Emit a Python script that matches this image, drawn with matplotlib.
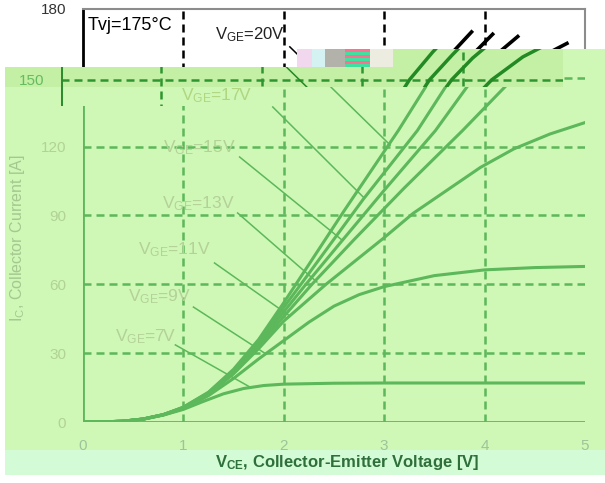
import matplotlib
matplotlib.use("Agg")
import matplotlib.pyplot as plt
from matplotlib.patches import Rectangle, Polygon

plt.rcParams["font.family"] = ["Liberation Sans", "DejaVu Sans"]
plt.rcParams["mathtext.fontset"] = "custom"
plt.rcParams["mathtext.rm"] = "Liberation Sans"
plt.rcParams["mathtext.default"] = "regular"

# output characteristic IC = f(VCE), Tvj = 175 degC
vce_7 = [0, 0.2, 0.4, 0.6, 0.8, 1.0, 1.2, 1.4, 1.6, 1.8, 2.0, 2.5, 3.0, 4.0, 5.0]
ic_7 = [0, 0.05, 0.35, 1.2, 3.0, 5.5, 9.0, 12.3, 14.6, 15.9, 16.5, 16.9, 17.0, 17.0, 17.0]

vce_9 = [0, 0.2, 0.4, 0.6, 0.8, 1.0, 1.25, 1.5, 1.75, 2.0, 2.25, 2.5, 2.75, 3.0, 3.5, 4.0, 4.5, 5.0]
ic_9 = [0, 0.05, 0.35, 1.3, 3.1, 5.8, 11.5, 19.0, 27.5, 35.5, 43.5, 50.5, 55.5, 59.0, 63.8, 66.3, 67.3, 67.8]

vce_11 = [0, 0.2, 0.4, 0.6, 0.8, 1.0, 1.25, 1.5, 1.75, 2.0, 2.42, 2.99, 3.29, 3.96, 4.29, 4.65, 5.0]
ic_11 = [0, 0.05, 0.35, 1.3, 3.2, 6.0, 12.0, 21.0, 32.0, 44.0, 60.0, 80.0, 91.0, 111.0, 119.0, 125.5, 130.5]

vce_13 = [0, 0.2, 0.4, 0.6, 0.8, 1.0, 1.25, 1.5, 1.75, 2.0, 2.28, 2.7, 3.2, 3.78, 4.29, 4.6, 4.82]
ic_13 = [0, 0.05, 0.35, 1.3, 3.2, 6.2, 12.2, 21.5, 33.0, 46.0, 60.0, 79.5, 102.0, 127.0, 150.0, 160.0, 165.0]

vce_15 = [0, 0.2, 0.4, 0.6, 0.8, 1.0, 1.25, 1.5, 1.75, 2.0, 2.22, 2.58, 3.0, 3.51, 3.89, 4.1, 4.33]
ic_15 = [0, 0.05, 0.35, 1.3, 3.2, 6.3, 12.5, 22.0, 34.0, 48.0, 60.0, 79.0, 101.0, 127.0, 150.0, 159.5, 168.0]

vce_17 = [0, 0.2, 0.4, 0.6, 0.8, 1.0, 1.25, 1.5, 1.75, 2.0, 2.17, 2.79, 3.33, 3.67, 3.9, 4.08]
ic_17 = [0, 0.05, 0.35, 1.3, 3.2, 6.4, 12.8, 22.5, 35.0, 50.0, 60.0, 97.0, 127.0, 150.0, 161.0, 169.0]

vce_20 = [0, 0.2, 0.4, 0.6, 0.8, 1.0, 1.25, 1.5, 1.75, 2.0, 2.12, 2.6, 3.14, 3.47, 3.7, 3.87]
ic_20 = [0, 0.05, 0.35, 1.3, 3.2, 6.5, 13.0, 23.0, 36.0, 52.0, 60.0, 92.0, 127.0, 150.0, 162.0, 170.0]

curves = [(vce_7, ic_7), (vce_9, ic_9), (vce_11, ic_11), (vce_13, ic_13),
          (vce_15, ic_15), (vce_17, ic_17), (vce_20, ic_20)]

x_ticks = [0, 1, 2, 3, 4, 5]
y_ticks = [0, 30, 60, 90, 120, 150, 180]

# curve labels with leader lines (V, A)
label_texts = ["V$_{GE}$=7V", "V$_{GE}$=9V", "V$_{GE}$=11V", "V$_{GE}$=13V",
               "V$_{GE}$=15V", "V$_{GE}$=17V", "V$_{GE}$=20V"]
label_pos = [(0.32, 37), (0.45, 54.5), (0.55, 75), (0.79, 95), (0.80, 119.4),
             (1.20, 143), (1.31, 168.7)]
leader_start = [(0.92, 33.6), (1.10, 50.1), (1.31, 69.3), (1.54, 91.1), (1.56, 115.5),
                (1.89, 137.3), (2.06, 163.5)]
leader_end = [(1.66, 15.3), (1.81, 30.0), (2.06, 46.2), (2.33, 61.0), (2.58, 79.3),
              (2.79, 98.1), (3.06, 120.7)]

W, H = 605, 483


def px_box(x0, y0, x1, y1):
    return [x0 / W, 1 - y1 / H, (x1 - x0) / W, (y1 - y0) / H]


def fig_poly(fig, pts):
    return Polygon([(x / W, 1 - y / H) for x, y in pts], closed=True,
                   transform=fig.transFigure)


def draw_chart(ax, line_c, lw, grid_c, leader_c):
    dash = (0, (3.2, 2.0))
    for v in x_ticks[1:-1]:
        ax.axvline(v, color=grid_c, lw=1.8, ls=dash)
    for i in y_ticks[1:-1]:
        ax.axhline(i, color=grid_c, lw=1.8, ls=dash)
    for v, i in curves:
        ax.plot(v, i, color=line_c, lw=lw)
    for s, e in zip(leader_start, leader_end):
        ax.plot([s[0], e[0]], [s[1], e[1]], color=leader_c, lw=1.1)
    ax.set_xlim(0, 5)
    ax.set_ylim(0, 180)
    ax.tick_params(length=0)


def clip_all(ax, poly):
    for a in ax.lines + list(ax.spines.values()):
        a.set_clip_on(True)
        a.set_clip_path(poly)


fig = plt.figure(figsize=(W / 100, H / 100), dpi=100)

# original black & white chart
ax0 = fig.add_axes(px_box(83, 9, 585, 422))
ax0.set_zorder(0)
draw_chart(ax0, "black", 2.6, "black", "black")
for s in ["top", "right"]:
    ax0.spines[s].set_color("#8c8c8c")
    ax0.spines[s].set_linewidth(1.5)
ax0.spines["left"].set_linewidth(2)
ax0.spines["bottom"].set_visible(False)
ax0.set_xticks([])
ax0.set_yticks([180])
ax0.set_yticklabels(["180"], fontsize=11, color="#333333")
ax0.tick_params(axis="y", pad=12)
ax0.text(0.05, 173, "Tvj=175°C", fontsize=13, va="center", ha="left")
ax0.text(label_pos[6][0], label_pos[6][1], label_texts[6], fontsize=12,
         va="center", ha="left", color="#222222")

# green overlay
bg_main = "#cff8b6"
bg_strip = "#c4f0a6"
for box, c in [((5, 67, 605, 450), bg_main), ((393, 49, 605, 67), bg_main),
               ((5, 67, 563, 87), bg_strip), ((393, 49, 563, 67), bg_strip),
               ((5, 450, 605, 475), "#d3fcd6")]:
    x, y, w, h = px_box(*box)
    fig.add_artist(Rectangle((x, y), w, h, transform=fig.transFigure,
                             facecolor=c, edgecolor="none", zorder=1))

green = "#5cb85a"
ax1 = fig.add_axes(px_box(83, 9, 585, 422))
ax1.set_zorder(2)
ax1.patch.set_visible(False)
draw_chart(ax1, green, 2.2, green, green)
ax1.spines["top"].set_visible(False)
ax1.spines["right"].set_visible(False)
for s in ["left", "bottom"]:
    ax1.spines[s].set_color(green)
    ax1.spines[s].set_linewidth(2)
ax1.set_xticks(x_ticks)
ax1.set_xticklabels([str(v) for v in x_ticks], fontsize=11, color="#9cc49a")
ax1.set_yticks(y_ticks[:5])
ax1.set_yticklabels([str(v) for v in y_ticks[:5]], fontsize=11, color="#b2d296")
ax1.tick_params(axis="x", pad=12)
ax1.tick_params(axis="y", pad=12)
for k in range(5):
    ax1.text(label_pos[k][0], label_pos[k][1], label_texts[k], fontsize=12.5,
             va="center", ha="left", color="#b4d198")
clip_all(ax1, fig_poly(fig, [(5, 106), (215, 106), (215, 87), (563, 87), (563, 49),
                             (605, 49), (605, 475), (5, 475)]))

# shifted strip
ax2 = fig.add_axes(px_box(61, 11, 563, 424))
ax2.set_zorder(3)
ax2.patch.set_visible(False)
draw_chart(ax2, "#238a23", 2.5, "#2f962f", "#238a23")
for s in ["top", "right", "bottom"]:
    ax2.spines[s].set_visible(False)
ax2.spines["left"].set_color("#2e8b2e")
ax2.spines["left"].set_linewidth(2.2)
ax2.set_xticks([])
ax2.set_yticks([150])
ax2.set_yticklabels(["150"], fontsize=11, color="#66bb5e")
ax2.tick_params(axis="y", pad=12)
ax2.text(label_pos[5][0], label_pos[5][1], label_texts[5], fontsize=12.5,
         va="center", ha="left", color="#b0d680")
clip_all(ax2, fig_poly(fig, [(5, 67), (393, 67), (393, 49), (563, 49), (563, 87),
                             (215, 87), (215, 106), (5, 106)]))

# corrupted block in the source picture
for (x0, x1), c in zip([(297, 312), (312, 325), (325, 345), (345, 370), (370, 393)],
                       ["#f2d8ee", "#d4f2f2", "#b2b2aa", "#ff7090", "#ecece0"]):
    x, y, w, h = px_box(x0, 49, x1, 67)
    fig.add_artist(Rectangle((x, y), w, h, transform=fig.transFigure,
                             facecolor=c, edgecolor="none", zorder=4))
for yy in [52, 58, 64]:
    x, y, w, h = px_box(345, yy, 370, yy + 2.5)
    fig.add_artist(Rectangle((x, y), w, h, transform=fig.transFigure,
                             facecolor="#40e0a0", edgecolor="none", zorder=4))

fig.text(347 / W, 1 - 462 / H, "V$_{CE}$, Collector-Emitter Voltage [V]",
         fontsize=12, fontweight="bold", color="#2f6f3a", ha="center", va="center")
fig.text(18 / W, 1 - 238 / H, "I$_{C}$, Collector Current [A]", fontsize=11.5,
         color="#a4c890", rotation=90, ha="center", va="center")

fig.savefig("out.png", dpi=100)
